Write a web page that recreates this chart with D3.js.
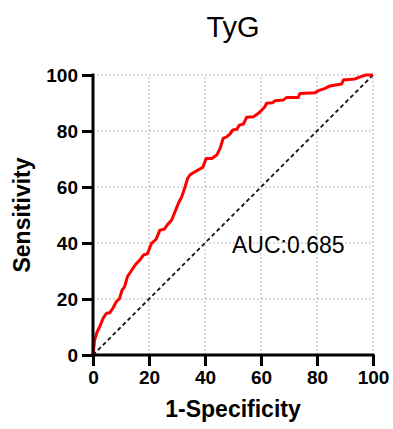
<!DOCTYPE html>
<html>
<head>
<meta charset="utf-8">
<script src="https://cdn.jsdelivr.net/npm/d3@7"></script>
<style>
  body { margin: 0; background: #fff; }
  svg { display: block; font-family: "Liberation Sans", Arial, sans-serif; }
</style>
</head>
<body>
<div id="chart"></div>
<script>
// ROC curve (percent)
const fpr = [0, 0.6, 1.5, 2.4, 3.6, 4.8, 6, 7.1, 8.3, 9.5, 10.4, 11.3, 12.3, 13.1, 14.3, 15.5, 16.7, 18, 19.4, 20.9,
  22.5, 23.9, 25.4, 26.5, 28.1, 29.3, 30.5, 31.7, 32.9, 33.8, 34.6, 35.8, 37.6, 39.2, 40.4, 42.4, 44.2, 45.4, 46.5, 47.7,
  48.9, 49.9, 51.3, 52.3, 53.7, 54.9, 57.3, 59.1, 60.3, 61.4, 62, 64.2, 65, 68, 69.2, 73.3, 73.9, 79.3, 80.5, 82.9,
  84.6, 88.8, 89.4, 93.6, 95.7, 97.5, 100];
const tpr = [0, 5.4, 8.3, 10.1, 13.1, 14.9, 15.1, 16.7, 19, 20.2, 23.2, 24.4, 28, 29.2, 31, 32.7, 33.9, 35.7, 36.1, 39.9,
  41.3, 44.6, 44.9, 46.4, 48.2, 51.2, 54.2, 56.5, 60.1, 63.1, 64.3, 65.1, 66.1, 67, 70.2, 70.2, 71.4, 73.8, 77.4, 77.9,
  78.9, 80.4, 80.6, 82.1, 82.5, 84.9, 85.1, 86.3, 87.5, 88.7, 89.9, 90.1, 90.8, 91.1, 92, 92, 93.4, 93.7, 94.4, 95.2,
  96.1, 96.8, 98.2, 98.6, 99.4, 100, 100];
const ticks = [0, 20, 40, 60, 80, 100];
const refLine = [0, 100];
const title = 'TyG';
const aucLabel = 'AUC:0.685';

const width = 393, height = 429;
const margin = {top: 75, right: 20, bottom: 74, left: 93};

const svg = d3.select('#chart').append('svg')
  .attr('width', width)
  .attr('height', height);

const x = d3.scaleLinear().domain([0, 100]).range([margin.left, 373]);
const y = d3.scaleLinear().domain([0, 100]).range([355, margin.top]);

// dotted grid
svg.append('g')
  .selectAll('line.vg').data(ticks.slice(1))
  .enter().append('line')
  .attr('x1', d => x(d)).attr('x2', d => x(d))
  .attr('y1', y(0)).attr('y2', y(100))
  .attr('stroke', '#b8b8b8').attr('stroke-width', 1).attr('stroke-dasharray', '2,2');
svg.append('g')
  .selectAll('line.hg').data(ticks.slice(1))
  .enter().append('line')
  .attr('x1', x(0)).attr('x2', x(100))
  .attr('y1', d => y(d)).attr('y2', d => y(d))
  .attr('stroke', '#b8b8b8').attr('stroke-width', 1).attr('stroke-dasharray', '2,2');

// reference diagonal
svg.append('line')
  .attr('x1', x(refLine[0])).attr('y1', y(refLine[0]))
  .attr('x2', x(refLine[1])).attr('y2', y(refLine[1]))
  .attr('stroke', '#111').attr('stroke-width', 1.8).attr('stroke-dasharray', '4,3');

// ROC curve
const pts = fpr.map((f, i) => [f, tpr[i]]);
svg.append('path')
  .datum(pts)
  .attr('fill', 'none')
  .attr('stroke', '#ff0000')
  .attr('stroke-width', 3)
  .attr('stroke-linejoin', 'round')
  .attr('d', d3.line().x(d => x(d[0])).y(d => y(d[1])));

// axes
const xAxis = svg.append('g')
  .attr('transform', 'translate(0,' + y(0) + ')')
  .call(d3.axisBottom(x).tickValues(ticks).tickSize(11).tickSizeOuter(0).tickPadding(5));
const yAxis = svg.append('g')
  .attr('transform', 'translate(' + x(0) + ',0)')
  .call(d3.axisLeft(y).tickValues(ticks).tickSize(11).tickSizeOuter(0).tickPadding(4));

[xAxis, yAxis].forEach(a => {
  a.select('.domain').attr('stroke', '#000').attr('stroke-width', 3);
  a.selectAll('.tick line').attr('stroke', '#000').attr('stroke-width', 3);
  a.selectAll('.tick text')
    .attr('fill', '#000')
    .style('font-size', '19px')
    .style('font-weight', 'bold')
    .style('font-family', '"Liberation Sans", Arial, sans-serif');
});
xAxis.select('.domain').attr('d', 'M' + (x(0) - 1.5) + ',0H' + (x(100) + 1.5));
yAxis.select('.domain').attr('d', 'M0,' + (y(0) + 1.5) + 'V' + (y(100) - 1.5));

// title
svg.append('text')
  .attr('x', 233).attr('y', 37)
  .attr('text-anchor', 'middle')
  .style('font-size', '29px')
  .text(title);

// axis titles
svg.append('text')
  .attr('x', 233).attr('y', 417)
  .attr('text-anchor', 'middle')
  .style('font-size', '23px').style('font-weight', 'bold')
  .text('1-Specificity');
svg.append('text')
  .attr('transform', 'translate(30,' + ((y(0) + y(100)) / 2) + ') rotate(-90)')
  .attr('text-anchor', 'middle')
  .style('font-size', '23px').style('font-weight', 'bold')
  .text('Sensitivity');

// AUC label
svg.append('text')
  .attr('x', 232).attr('y', 253)
  .style('font-size', '23px')
  .text(aucLabel);
</script>
</body>
</html>
